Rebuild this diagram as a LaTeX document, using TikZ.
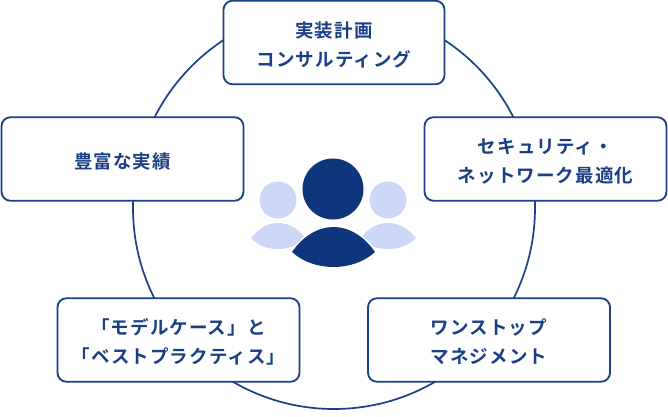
\documentclass[tikz,border=0pt]{standalone}
\usepackage{fontspec}
\newfontfamily\cjk[LetterSpace=6,BoldFont={Noto Sans CJK JP Bold}]{Noto Sans CJK JP}
\newcommand\firstline{\rule{0pt}{24pt}}
\newcommand\lastline{\rule[-6pt]{0pt}{6pt}}
\definecolor{navy}{HTML}{1B4088}
\definecolor{navytext}{HTML}{1A3F86}
\definecolor{icondark}{HTML}{0F367C}
\definecolor{iconlight}{HTML}{CDD8F6}
\tikzset{
  card/.style={draw=navy,line width=1.8pt,fill=white,rounded corners=9pt,minimum width=242pt,minimum height=83.5pt,
    align=center,inner sep=0pt,text=navytext,font=\cjk\fontsize{18.5pt}{29pt}\selectfont\bfseries},
  ring/.style={draw=navy,line width=1.7pt},
  lightshape/.style={fill=iconlight,draw=none},
  darkshape/.style={fill=icondark,draw=none}
}
\begin{document}
\begin{tikzpicture}[x=1pt,y=-1pt]
\useasboundingbox (0,0) rectangle (668,416);
\draw[ring] (334,208) circle[radius=201];
\node[card,minimum width=221pt] (plan) at (334,42.5) {\firstline 実装計画\\コンサルティング\lastline};
\node[card] (sec) at (545.5,159) {\firstline セキュリティ・\\ネットワーク最適化\lastline};
\node[card] (one) at (489,340) {\firstline ワンストップ\\マネジメント\lastline};
\node[card] (model) at (178.5,340) {\firstline 「モデルケース」と\\「ベストプラクティス」\lastline};
\node[card] (rich) at (122.5,159) {\firstline 豊富な実績\lastline};
% people icon
\fill[lightshape] (278,200) circle[radius=18.5];
\fill[lightshape] (388,200) circle[radius=18.5];
\fill[lightshape] (251,238) .. controls (259,228) and (268,223) .. (278,223) .. controls (288,223) and (298,228) .. (305,238) .. controls (298,246) and (288,249) .. (278,249) .. controls (268,249) and (258,246) .. (251,238) -- cycle;
\fill[lightshape] (416,238) .. controls (408,228) and (398,223) .. (388,223) .. controls (378,223) and (368,228) .. (361,238) .. controls (368,246) and (378,249) .. (388,249) .. controls (398,249) and (408,246) .. (416,238) -- cycle;
\filldraw[white,line width=3pt] (292,252) .. controls (303,236) and (318,227) .. (333.5,227) .. controls (349,227) and (364,236) .. (375,252) .. controls (364,262) and (349,267) .. (333.5,267) .. controls (318,267) and (303,262) .. (292,252) -- cycle;
\fill[darkshape] (333,189) circle[radius=30.5];
\fill[darkshape] (292,252) .. controls (303,236) and (318,227) .. (333.5,227) .. controls (349,227) and (364,236) .. (375,252) .. controls (364,262) and (349,267) .. (333.5,267) .. controls (318,267) and (303,262) .. (292,252) -- cycle;
\end{tikzpicture}
\end{document}
